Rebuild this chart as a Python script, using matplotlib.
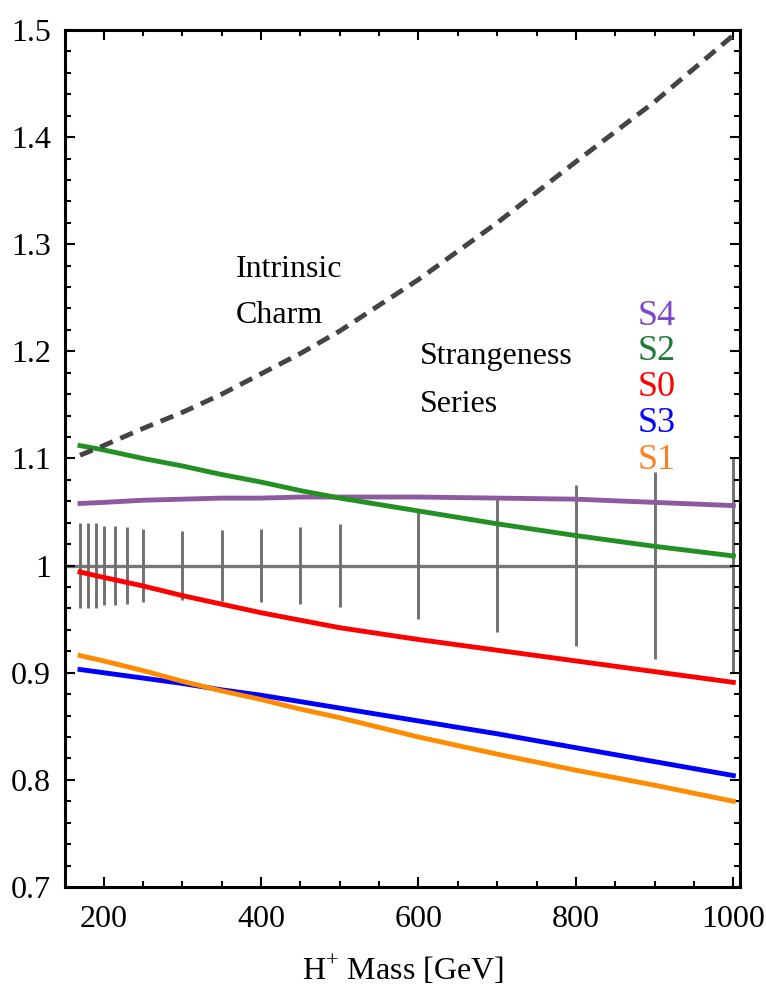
import matplotlib
matplotlib.use("Agg")
import matplotlib.pyplot as plt
import numpy as np
from matplotlib.ticker import MultipleLocator

plt.rcParams['font.family'] = ['Liberation Serif', 'DejaVu Serif']
plt.rcParams['mathtext.fontset'] = 'custom'
plt.rcParams['mathtext.rm'] = 'Liberation Serif'

# H+ mass points (GeV) where the curves were read
mass = [170, 200, 250, 300, 350, 400, 450, 500, 600, 700, 800, 900, 1000]

charm = [1.103, 1.112, 1.128, 1.143, 1.160, 1.179, 1.198, 1.219, 1.267, 1.320, 1.377, 1.433, 1.495]
s4 = [1.058, 1.059, 1.061, 1.062, 1.063, 1.063, 1.064, 1.064, 1.064, 1.063, 1.062, 1.059, 1.056]
s2 = [1.112, 1.108, 1.100, 1.093, 1.085, 1.078, 1.070, 1.063, 1.051, 1.039, 1.028, 1.018, 1.009]
s0 = [0.994, 0.989, 0.981, 0.972, 0.964, 0.956, 0.949, 0.942, 0.931, 0.921, 0.911, 0.901, 0.891]
s3 = [0.903, 0.900, 0.895, 0.890, 0.884, 0.879, 0.873, 0.867, 0.855, 0.843, 0.830, 0.817, 0.804]
s1 = [0.916, 0.911, 0.902, 0.892, 0.883, 0.875, 0.866, 0.858, 0.840, 0.824, 0.809, 0.795, 0.780]

# uncertainty bars around 1
err_mass = [170, 180, 190, 200, 215, 230, 250, 300, 350, 400, 450, 500, 600, 700, 800, 900, 1000]
err_half = [0.040, 0.040, 0.040, 0.037, 0.037, 0.036, 0.034, 0.032, 0.033, 0.034, 0.036, 0.039,
            0.050, 0.062, 0.075, 0.087, 0.100]

series_labels = ["S4", "S2", "S0", "S3", "S1"]
label_colors = ["#7a48c8", "#1e7a3c", "#ff0000", "#0000ff", "#ff8020"]

fig = plt.figure(figsize=(7.66, 10.02), dpi=100)
ax = fig.add_axes([0.0849, 0.1148, 0.8812, 0.8553])

# reference line and error bars
ax.hlines(1.0, 151, 1000, color="#777777", lw=2.4, zorder=1)
ax.vlines(err_mass, 1 - np.array(err_half), 1 + np.array(err_half),
          color="#707070", lw=2.1, zorder=1)

ax.plot(mass, charm, color="#444444", lw=3.5, ls=(0, (2.8, 1.7)), zorder=3)
ax.plot(mass, s4, color="#8c5aa0", lw=3.5, zorder=2)
ax.plot(mass, s2, color="#229022", lw=3.5, zorder=2)
ax.plot(mass, s0, color="#ff0000", lw=3.5, zorder=2)
ax.plot(mass, s3, color="#0000ff", lw=3.5, zorder=2)
ax.plot(mass, s1, color="#ff8c00", lw=3.5, zorder=2)

ax.text(368, 1.269, "Intrinsic", fontsize=23, va="baseline")
ax.text(368, 1.226, "Charm", fontsize=23, va="baseline")
ax.text(602, 1.1886, "Strangeness", fontsize=23, va="baseline")
ax.text(602, 1.143, "Series", fontsize=23, va="baseline")

label_y = [1.2250, 1.1920, 1.1587, 1.1245, 1.0903]
for lab, c, yy in zip(series_labels, label_colors, label_y):
    ax.text(879, yy, lab, fontsize=26, color=c, va="baseline")

ax.set_xlim(151, 1008.5)
ax.set_ylim(0.7, 1.5)
ax.xaxis.set_major_locator(MultipleLocator(200))
ax.xaxis.set_minor_locator(MultipleLocator(50))
ax.yaxis.set_minor_locator(MultipleLocator(0.02))
ax.set_yticks([0.7, 0.8, 0.9, 1.0, 1.1, 1.2, 1.3, 1.4, 1.5])
ax.set_yticklabels(["0.7", "0.8", "0.9", "1", "1.1", "1.2", "1.3", "1.4", "1.5"])

ax.tick_params(which="both", direction="in", top=True, right=True, width=1.5, labelsize=23)
ax.tick_params(which="major", length=7)
ax.tick_params(which="minor", length=4)
ax.tick_params(axis="x", pad=13)
ax.tick_params(axis="y", pad=10)
for sp in ax.spines.values():
    sp.set_linewidth(2.2)

ax.set_xlabel(r"$\mathrm{H}^{+}$ Mass [GeV]", fontsize=23, labelpad=14)

fig.savefig("out.png", dpi=100)
